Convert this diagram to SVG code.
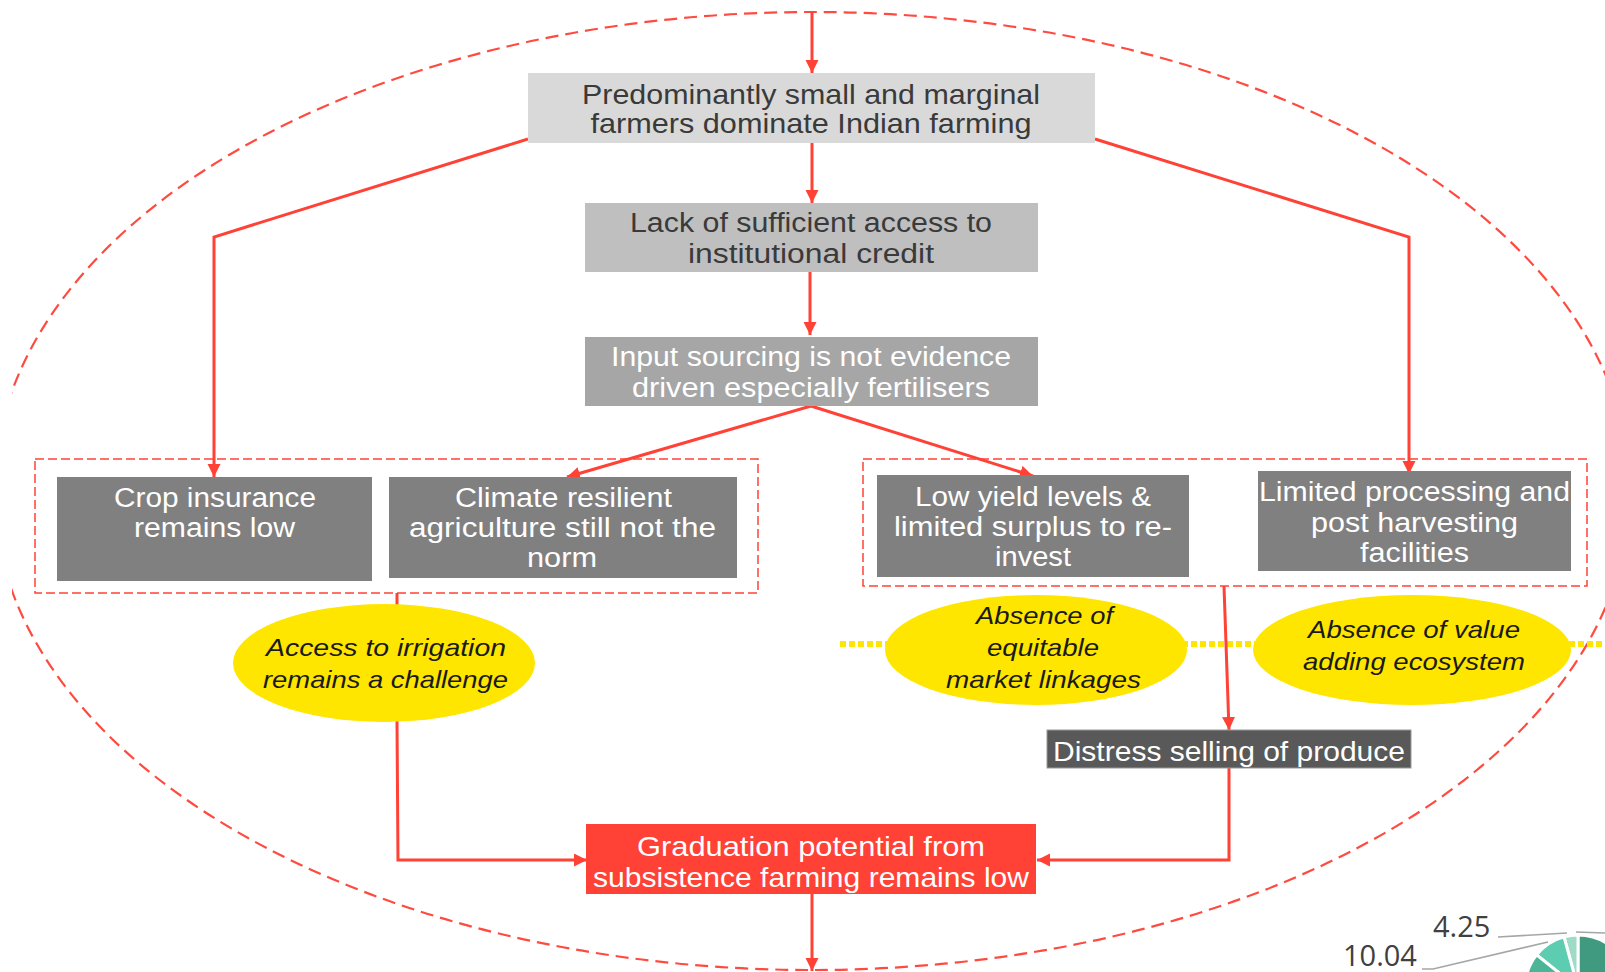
<svg xmlns="http://www.w3.org/2000/svg" width="1605" height="972" viewBox="0 0 1605 972">
<style>
.t{font-family:"Liberation Sans",Arial,sans-serif;text-anchor:middle}
.dk{fill:#3a3a3a}
.wh{fill:#ffffff}
.it{font-family:"Liberation Sans",Arial,sans-serif;font-style:italic;text-anchor:middle;fill:#1a1a1a;font-size:24px}
.con{fill:none;stroke:#ff4136;stroke-width:3;stroke-linejoin:miter}
.grp{fill:none;stroke:#ff4136;stroke-width:1.5;stroke-dasharray:9 4}
.yel{fill:#ffe600}
.lead{fill:none;stroke:#a6a6a6;stroke-width:1.6}
.num{font-family:"Open Sans","Liberation Sans",sans-serif;fill:#404040;font-size:29px}
</style>
<defs>
<marker id="ah" markerUnits="userSpaceOnUse" markerWidth="14" markerHeight="14" refX="13" refY="6.5" orient="auto">
<path d="M0,0 L13,6.5 L0,13 z" fill="#ff4136"/>
</marker>
<clipPath id="clipL"><rect x="12" y="0" width="1593" height="972"/></clipPath>
</defs>
<rect width="1605" height="972" fill="#ffffff"/>

<g id="outer-boundary">
<ellipse cx="812" cy="491" rx="818" ry="479" fill="none" stroke="#ff4a40" stroke-width="2.2" stroke-dasharray="13 7" clip-path="url(#clipL)"/>
</g>

<g id="group-left"><rect class="grp" x="35" y="459" width="723" height="134"/></g>
<g id="group-right"><rect class="grp" x="863" y="459" width="724" height="127"/></g>

<g id="dotted-band">
<line x1="840" y1="644" x2="1605" y2="644" stroke="#ffe600" stroke-width="6" stroke-dasharray="6 3"/>
</g>

<g id="connectors">
<line class="con" x1="812" y1="12" x2="812" y2="73" marker-end="url(#ah)"/>
<line class="con" x1="812" y1="143" x2="812" y2="203" marker-end="url(#ah)"/>
<line class="con" x1="810" y1="272" x2="810" y2="335" marker-end="url(#ah)"/>
<polyline class="con" points="528,139 214,237 214,477" marker-end="url(#ah)"/>
<polyline class="con" points="1095,139 1409,237 1409,474" marker-end="url(#ah)"/>
<line class="con" x1="811" y1="406" x2="567" y2="477" marker-end="url(#ah)"/>
<line class="con" x1="811" y1="406" x2="1033" y2="476" marker-end="url(#ah)"/>
<line class="con" x1="397" y1="593" x2="397" y2="606"/>
<polyline class="con" points="397,721 398,860 587,860" marker-end="url(#ah)"/>
<line class="con" x1="1224" y1="586" x2="1229" y2="730" marker-end="url(#ah)"/>
<polyline class="con" points="1229,768 1229,860 1037,860" marker-end="url(#ah)"/>
<line class="con" x1="812" y1="894" x2="812" y2="971" marker-end="url(#ah)"/>
</g>

<g id="n-smallfarmers">
<rect x="528" y="73" width="567" height="70" fill="#d9d9d9"/>
<text class="t dk" font-size="28" x="811" y="104" textLength="458" lengthAdjust="spacingAndGlyphs">Predominantly small and marginal</text>
<text class="t dk" font-size="28" x="811" y="133" textLength="441" lengthAdjust="spacingAndGlyphs">farmers dominate Indian farming</text>
</g>

<g id="n-credit">
<rect x="585" y="203" width="453" height="69" fill="#bfbfbf"/>
<text class="t dk" font-size="27" x="811" y="232" textLength="362" lengthAdjust="spacingAndGlyphs">Lack of sufficient access to</text>
<text class="t dk" font-size="27" x="811" y="263" textLength="246" lengthAdjust="spacingAndGlyphs">institutional credit</text>
</g>

<g id="n-input">
<rect x="585" y="337" width="453" height="69" fill="#a6a6a6"/>
<text class="t wh" font-size="27" x="811" y="366" textLength="400" lengthAdjust="spacingAndGlyphs">Input sourcing is not evidence</text>
<text class="t wh" font-size="27" x="811" y="397" textLength="358" lengthAdjust="spacingAndGlyphs">driven especially fertilisers</text>
</g>

<g id="n-crop">
<rect x="57" y="477" width="315" height="104" fill="#808080"/>
<text class="t wh" font-size="27" x="215" y="507" textLength="202" lengthAdjust="spacingAndGlyphs">Crop insurance</text>
<text class="t wh" font-size="27" x="214.5" y="537" textLength="161" lengthAdjust="spacingAndGlyphs">remains low</text>
</g>

<g id="n-climate">
<rect x="389" y="477" width="348" height="101" fill="#808080"/>
<text class="t wh" font-size="27" x="563.5" y="507" textLength="217" lengthAdjust="spacingAndGlyphs">Climate resilient</text>
<text class="t wh" font-size="27" x="562.5" y="537" textLength="307" lengthAdjust="spacingAndGlyphs">agriculture still not the</text>
<text class="t wh" font-size="27" x="562" y="567" textLength="70" lengthAdjust="spacingAndGlyphs">norm</text>
</g>

<g id="n-lowyield">
<rect x="877" y="475" width="312" height="102" fill="#808080"/>
<text class="t wh" font-size="27" x="1033" y="506" textLength="236" lengthAdjust="spacingAndGlyphs">Low yield levels &amp;</text>
<text class="t wh" font-size="27" x="1033" y="536" textLength="278" lengthAdjust="spacingAndGlyphs">limited surplus to re-</text>
<text class="t wh" font-size="27" x="1033" y="566" textLength="76" lengthAdjust="spacingAndGlyphs">invest</text>
</g>

<g id="n-processing">
<rect x="1258" y="471" width="313" height="100" fill="#808080"/>
<text class="t wh" font-size="27" x="1414.5" y="501" textLength="311" lengthAdjust="spacingAndGlyphs">Limited processing and</text>
<text class="t wh" font-size="27" x="1414.5" y="532" textLength="207" lengthAdjust="spacingAndGlyphs">post harvesting</text>
<text class="t wh" font-size="27" x="1414.5" y="562" textLength="109" lengthAdjust="spacingAndGlyphs">facilities</text>
</g>

<g id="n-irrigation">
<ellipse class="yel" cx="384" cy="663" rx="151" ry="59"/>
<text class="it" x="386" y="656" textLength="240" lengthAdjust="spacingAndGlyphs">Access to irrigation</text>
<text class="it" x="385.5" y="688" textLength="245" lengthAdjust="spacingAndGlyphs">remains a challenge</text>
</g>

<g id="n-market">
<ellipse class="yel" cx="1036" cy="650" rx="151" ry="55"/>
<text class="it" x="1044.5" y="624" textLength="137" lengthAdjust="spacingAndGlyphs">Absence of</text>
<text class="it" x="1043" y="656" textLength="112" lengthAdjust="spacingAndGlyphs">equitable</text>
<text class="it" x="1043.5" y="688" textLength="195" lengthAdjust="spacingAndGlyphs">market linkages</text>
</g>

<g id="n-value">
<ellipse class="yel" cx="1412" cy="650" rx="159" ry="55"/>
<text class="it" x="1414" y="638" textLength="212" lengthAdjust="spacingAndGlyphs">Absence of value</text>
<text class="it" x="1414" y="670" textLength="222" lengthAdjust="spacingAndGlyphs">adding ecosystem</text>
</g>

<g id="n-distress">
<rect x="1047" y="730" width="364" height="38" fill="#595959" stroke="#9a9a9a" stroke-width="1"/>
<text class="t wh" font-size="28" x="1229" y="761" textLength="352" lengthAdjust="spacingAndGlyphs">Distress selling of produce</text>
</g>

<g id="n-graduation">
<rect x="586" y="824" width="450" height="70" fill="#ff4136"/>
<text class="t wh" font-size="28" x="811" y="856" textLength="348" lengthAdjust="spacingAndGlyphs">Graduation potential from</text>
<text class="t wh" font-size="28" x="811" y="887" textLength="436" lengthAdjust="spacingAndGlyphs">subsistence farming remains low</text>
</g>

<g id="pie-fragment">
<path d="M1578,988 L1578,935 A53,53 0 0 1 1578,1041 Z" fill="#3f9a80" stroke="#ffffff" stroke-width="3"/>
<path d="M1578,988 L1564,936.9 A53,53 0 0 1 1578,935 Z" fill="#9fdcc8" stroke="#ffffff" stroke-width="3"/>
<path d="M1578,988 L1536.6,954.9 A53,53 0 0 1 1564,936.9 Z" fill="#5ccdb0" stroke="#ffffff" stroke-width="3"/>
<path d="M1578,988 L1528.2,1006.1 A53,53 0 0 1 1536.6,954.9 Z" fill="#4cb597" stroke="#ffffff" stroke-width="3"/>
<polyline class="lead" points="1498,937 1567,933"/>
<polyline class="lead" points="1576,932 1605,933"/>
<polyline class="lead" points="1422,969 1433,969 1548,942"/>
<text class="num" x="1433" y="937">4.25</text>
<text class="num" x="1343" y="966">10.04</text>
</g>
</svg>
